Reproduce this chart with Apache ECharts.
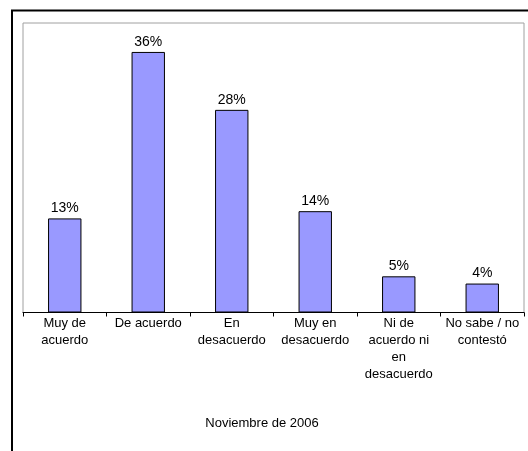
<!DOCTYPE html>
<html>
<head>
<meta charset="utf-8">
<script src="https://cdn.jsdelivr.net/npm/echarts@6/dist/echarts.min.js"></script>
<style>
html,body{margin:0;padding:0;background:#fff;}
#chart{width:528px;height:451px;}
</style>
</head>
<body>
<div id="chart"></div>
<script>
var categories = ['Muy de\nacuerdo', 'De acuerdo', 'En\ndesacuerdo', 'Muy en\ndesacuerdo', 'Ni de\nacuerdo ni\nen\ndesacuerdo', 'No sabe / no\ncontestó'];
var values = [13, 36, 28, 14, 5, 4];
var axisTitle = 'Noviembre de 2006';

var chart = echarts.init(document.getElementById('chart'), null, {renderer: 'canvas'});
var font = 'Liberation Sans, Arial, sans-serif';
chart.setOption({
  animation: false,
  backgroundColor: '#fff',
  grid: {left: 23, top: 23, right: 4, bottom: 138.5, show: true, borderColor: '#a0a0a0', borderWidth: 1, backgroundColor: 'transparent'},
  xAxis: {
    type: 'category',
    data: categories,
    axisLine: {lineStyle: {color: '#000', width: 1}},
    axisTick: {show: true, length: 4, lineStyle: {color: '#000'}},
    axisLabel: {color: '#000', fontFamily: font, fontSize: 13, lineHeight: 16.7, margin: 3, interval: 0}
  },
  yAxis: {
    type: 'value', min: 0, max: 40,
    show: false,
    splitLine: {show: false}
  },
  series: [{
    type: 'bar',
    data: values,
    barWidth: '40%',
    itemStyle: {color: '#9999FF', borderColor: '#000', borderWidth: 1},
    label: {show: true, position: 'top', distance: 3, color: '#000', fontFamily: font, fontSize: 14, formatter: '{c}%'}
  }],
  graphic: [
    {type: 'rect', shape: {x: 12, y: 10.5, width: 540, height: 460}, style: {fill: 'none', stroke: '#000', lineWidth: 2}, z: 100},
    {type: 'text', x: 262, y: 423, style: {text: axisTitle, fill: '#000', font: '13px ' + font, textAlign: 'center', textVerticalAlign: 'middle'}, z: 100}
  ]
});
</script>
</body>
</html>
